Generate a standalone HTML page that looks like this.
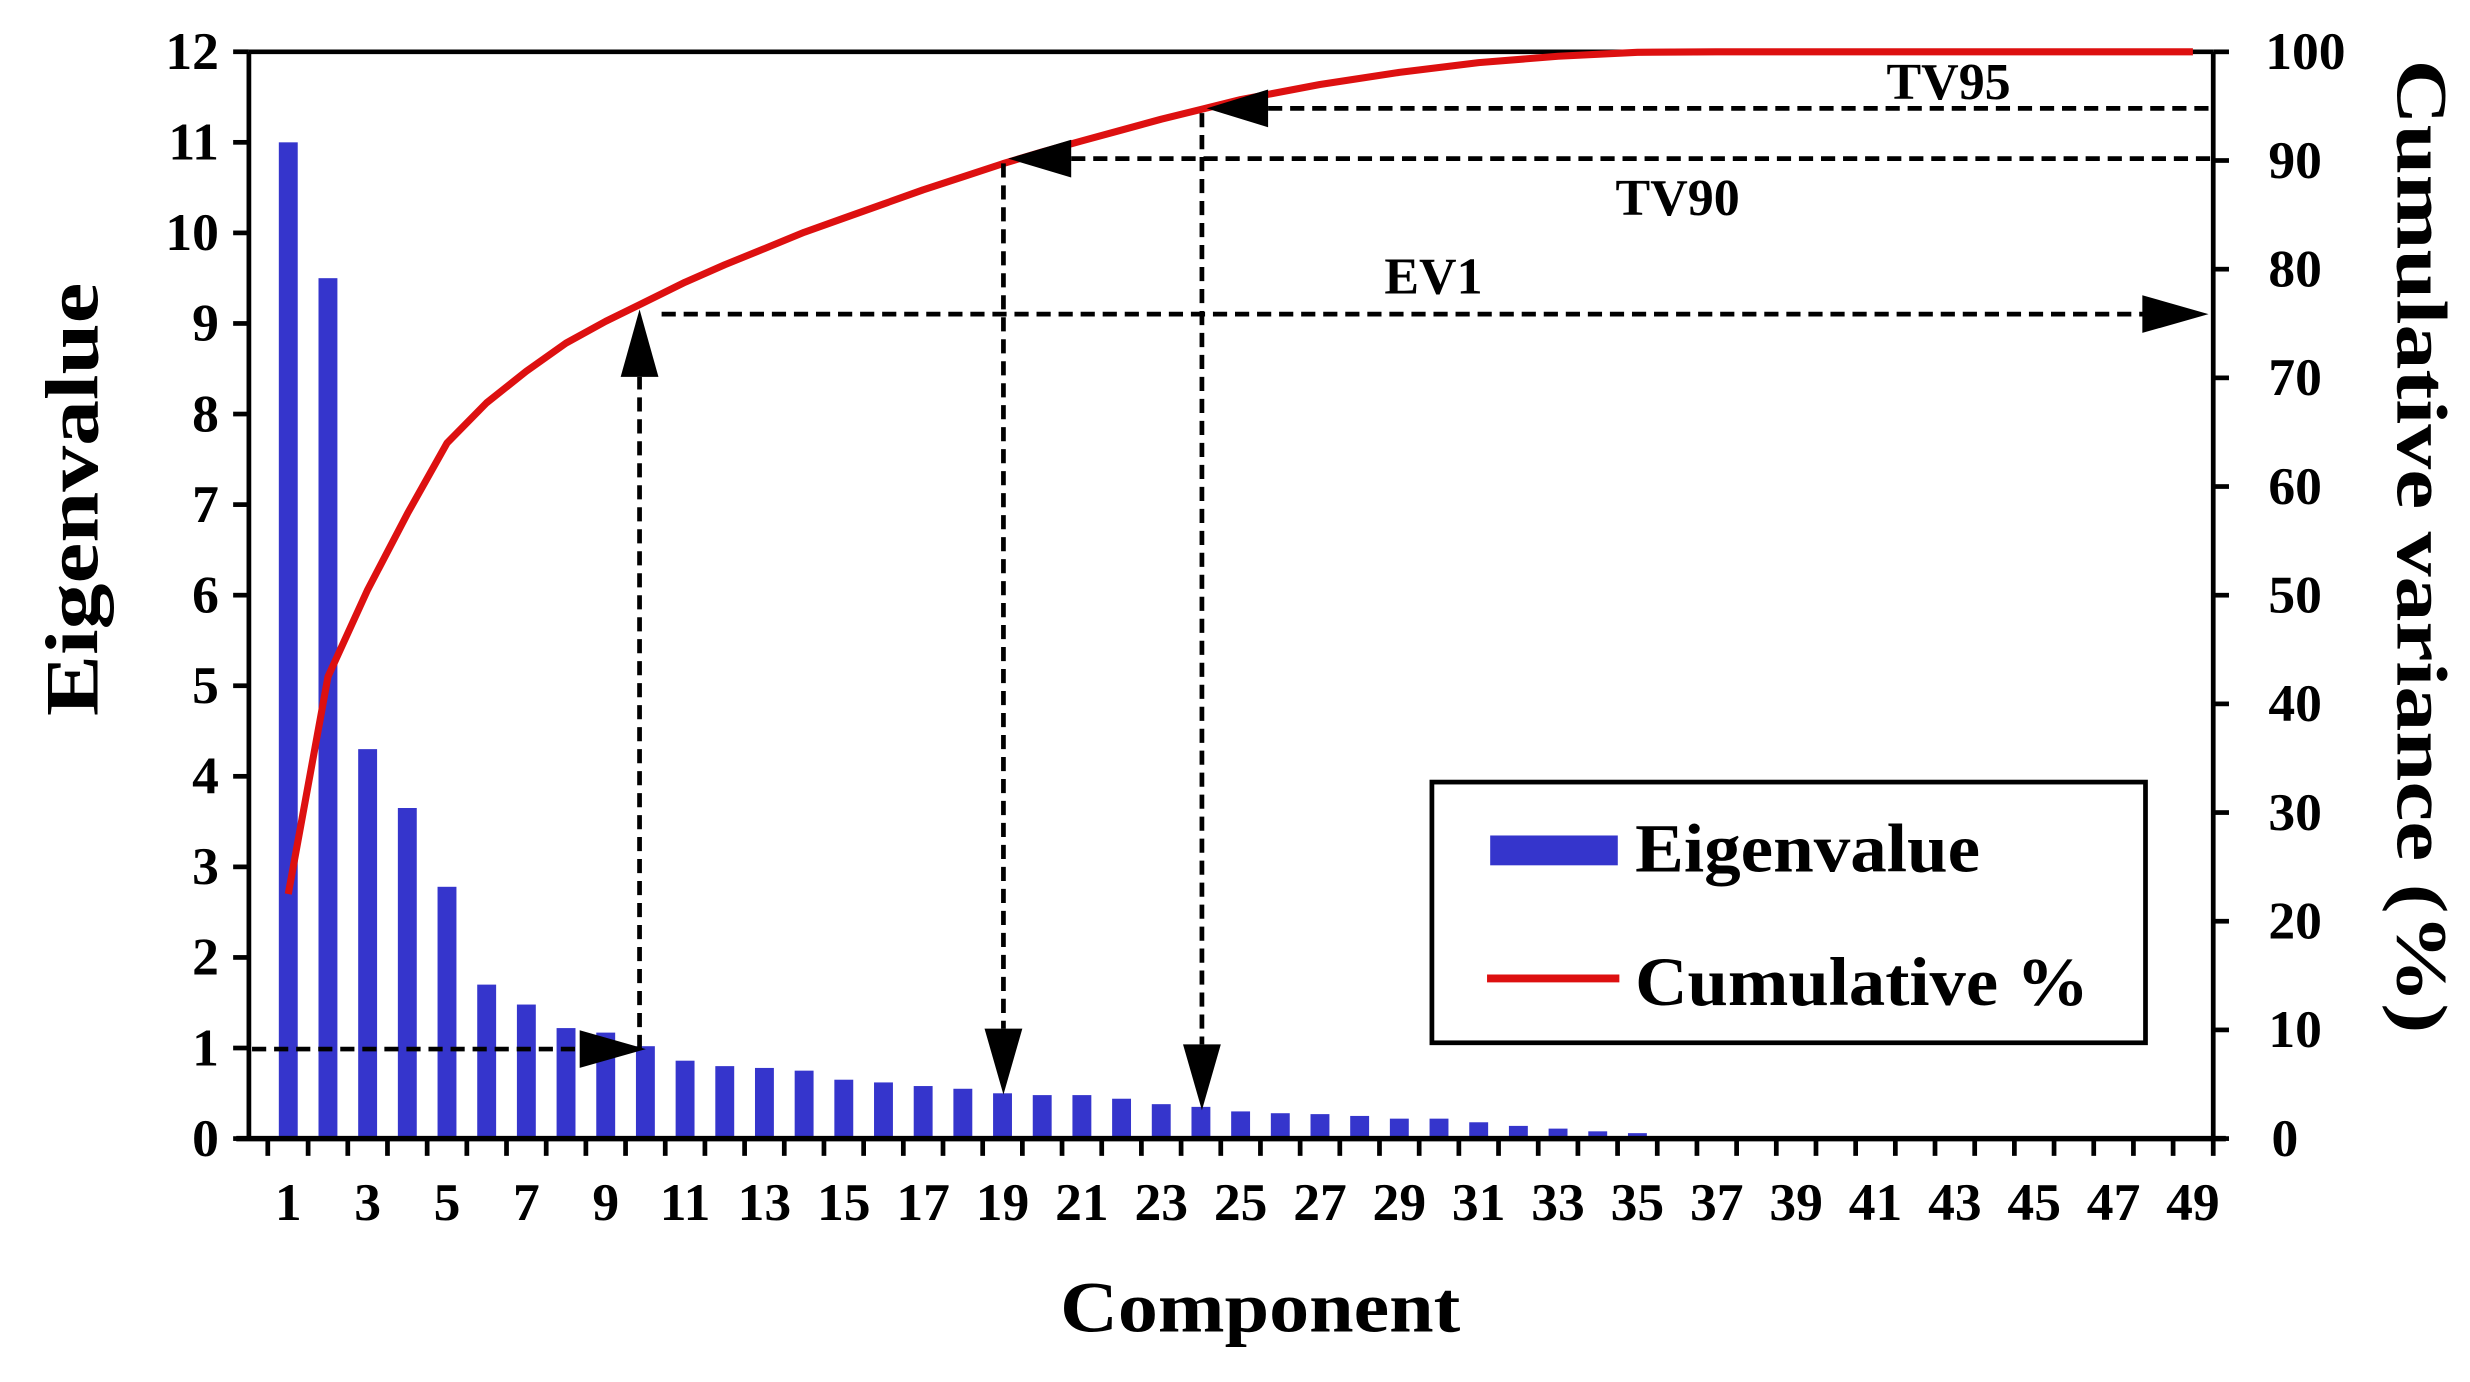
<!DOCTYPE html>
<html><head><meta charset="utf-8"><style>html,body{margin:0;padding:0;background:#fff}svg{display:block}text{font-family:"Liberation Serif","Times New Roman",serif;font-weight:bold}</style></head>
<body>
<svg width="2470" height="1382" viewBox="0 0 1568 880" preserveAspectRatio="none" xmlns="http://www.w3.org/2000/svg">
<rect width="1568" height="880" fill="#fff"/>
<g id="bars" fill="#3535cc"></g>
<g id="ticks" stroke="#000" stroke-width="3"></g>
<g id="xl" font-size="34" text-anchor="middle"></g>
<line x1="158" y1="33" x2="1405" y2="33" stroke="#000" stroke-width="3"/>
<line x1="158" y1="33" x2="158" y2="726" stroke="#000" stroke-width="3"/>
<line x1="1405" y1="33" x2="1405" y2="726" stroke="#000" stroke-width="3"/>
<line x1="150" y1="725" x2="1413" y2="725" stroke="#000" stroke-width="3.5"/>
<polyline fill="none" stroke="#dd1010" stroke-width="4.5" stroke-linejoin="round" points=""/>
<g stroke="#000" stroke-width="3" stroke-dasharray="9,5" fill="none">
<line x1="160" y1="668" x2="372" y2="668"/>
<line x1="406" y1="668" x2="406" y2="240"/>
<line x1="420" y1="200" x2="1362" y2="200"/>
<line x1="680" y1="101" x2="1403" y2="101"/>
<line x1="637" y1="104" x2="637" y2="655"/>
<line x1="805" y1="69" x2="1403" y2="69"/>
<line x1="763" y1="72" x2="763" y2="665"/>
</g>
<g fill="#000">
<polygon points="368,656 368,680 410,668"/>
<polygon points="394,240 418,240 406,197"/>
<polygon points="1360,188 1360,212 1402,200"/>
<polygon points="680,89 680,113 640,101"/>
<polygon points="625,655 649,655 637,697"/>
<polygon points="805,57 805,81 766,69"/>
<polygon points="751,665 775,665 763,707"/>
</g>
<g font-size="33" text-anchor="middle">
<text x="1237" y="63">TV95</text>
<text x="1065" y="137">TV90</text>
<text x="910" y="187">EV1</text>
</g>
<g id="yl" font-size="34" text-anchor="end"></g>
<g id="yr" font-size="34" text-anchor="start"></g>
<text x="800" y="848" font-size="46" text-anchor="middle" textLength="254" lengthAdjust="spacingAndGlyphs">Component</text>
<text transform="translate(62,318) rotate(-90)" font-size="48" text-anchor="middle" textLength="276" lengthAdjust="spacingAndGlyphs">Eigenvalue</text>
<text transform="translate(1522,348) rotate(90)" font-size="46" text-anchor="middle" textLength="620" lengthAdjust="spacingAndGlyphs">Cumulative variance (%)</text>
<rect x="909" y="498" width="453" height="166" fill="#fff" stroke="#000" stroke-width="3"/>
<rect x="946" y="532" width="81" height="19" fill="#3535cc"/>
<line x1="944" y1="623" x2="1028" y2="623" stroke="#dd1010" stroke-width="5"/>
<text x="1038" y="555" font-size="44" textLength="219" lengthAdjust="spacingAndGlyphs">Eigenvalue</text>
<text x="1038" y="640" font-size="44" textLength="288" lengthAdjust="spacingAndGlyphs">Cumulative %</text>
</svg>
<script>
(function(){
var ns="http://www.w3.org/2000/svg";
function X(c){return 183+(c-1)*25.19;}
function YE(v){return 725-v*57.67;}
function YP(p){return 725-p*6.92;}
var ev=[11,9.5,4.3,3.65,2.78,1.7,1.48,1.22,1.17,1.02,0.86,0.8,0.78,0.75,0.65,0.62,0.58,0.55,0.5,0.48,0.48,0.44,0.38,0.35,0.3,0.28,0.27,0.25,0.22,0.22,0.18,0.14,0.11,0.08,0.06,0.02];
var g=document.getElementById('bars');
ev.forEach(function(v,i){var r=document.createElementNS(ns,'rect');r.setAttribute('x',X(i+1)-6);r.setAttribute('y',YE(v));r.setAttribute('width',12);r.setAttribute('height',725-YE(v));g.appendChild(r);});
var t=document.getElementById('ticks');
function ln(a,b,c,d){var l=document.createElementNS(ns,'line');l.setAttribute('x1',a);l.setAttribute('y1',b);l.setAttribute('x2',c);l.setAttribute('y2',d);t.appendChild(l);}
for(var c=0;c<=49;c++){var x=X(c+0.5);if(c==49)x=1405;if(c==0)x=170; ln(x,725,x,736);}
for(var i=0;i<=12;i++){ln(148,YE(i),158,YE(i));}
for(var i=0;i<=10;i++){ln(1405,YP(i*10),1415,YP(i*10));}
var xl=document.getElementById('xl');
for(var c=1;c<=49;c+=2){var s=document.createElementNS(ns,'text');s.setAttribute('x',X(c));s.setAttribute('y',777);s.textContent=c;xl.appendChild(s);}
var yl=document.getElementById('yl');
for(var i=0;i<=12;i++){var s=document.createElementNS(ns,'text');s.setAttribute('x',139);s.setAttribute('y',YE(i)+11);s.textContent=i;yl.appendChild(s);}
var yr=document.getElementById('yr');
for(var i=0;i<=10;i++){var s=document.createElementNS(ns,'text');s.setAttribute('x',i==0?1442:(i==10?1438:1440));s.setAttribute('y',YP(i*10)+11);s.textContent=i*10;yr.appendChild(s);}
var pts=[[1,22.5],[2,42.5],[3,50.5],[4,57.5],[5,64],[6,67.7],[7,70.6],[8,73.2],[9,75.2],[10,77],[11,78.8],[12,80.4],[13,81.9],[14,83.4],[15,84.7],[16,86],[17,87.3],[18,88.5],[19,89.7],[20,90.8],[21,91.8],[22,92.8],[23,93.8],[24,94.7],[25,95.6],[27,97],[29,98.1],[31,99],[33,99.6],[35,99.95],[37,100],[49,100]];
document.querySelector('polyline').setAttribute('points',pts.map(function(p){return X(p[0]).toFixed(1)+','+YP(p[1]).toFixed(1);}).join(' '));
})();
</script>
</body></html>
